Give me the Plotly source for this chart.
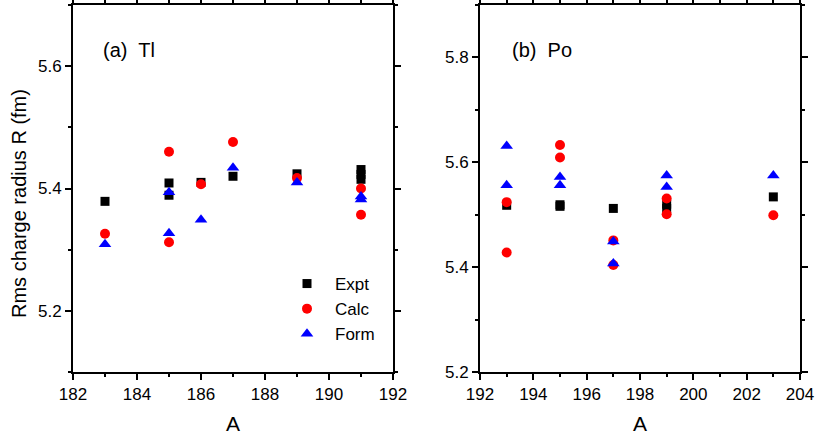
import plotly.graph_objects as go

# ---- data: panel (a) Tl ----
tl_expt_A = [183, 185, 185, 186, 187, 189, 191, 191, 191]
tl_expt_R = [5.379, 5.409, 5.389, 5.410, 5.420, 5.424, 5.431, 5.423, 5.415]
tl_calc_A = [183, 185, 185, 186, 187, 189, 191, 191]
tl_calc_R = [5.326, 5.460, 5.312, 5.407, 5.476, 5.417, 5.400, 5.357]
tl_form_A = [183, 185, 185, 186, 187, 189, 191, 191]
tl_form_R = [5.309, 5.394, 5.327, 5.349, 5.434, 5.410, 5.387, 5.382]

# ---- data: panel (b) Po ----
po_expt_A = [193, 195, 195, 197, 199, 199, 203]
po_expt_R = [5.518, 5.516, 5.519, 5.512, 5.520, 5.512, 5.534]
po_calc_A = [193, 193, 195, 195, 197, 197, 199, 199, 203]
po_calc_R = [5.524, 5.428, 5.633, 5.609, 5.451, 5.404, 5.531, 5.501, 5.499]
po_form_A = [193, 193, 195, 195, 197, 197, 199, 199, 203]
po_form_R = [5.631, 5.556, 5.572, 5.556, 5.449, 5.407, 5.575, 5.553, 5.575]

series_names = ["Expt", "Calc", "Form"]
colors = ["black", "red", "blue"]
symbols = ["square", "circle", "triangle-up"]
sizes = [9, 10, 11]

W, H = 816, 435
L, R, T, B = 73, 16, 5, 63
pw = W - L - R
ph = H - T - B

def px2x(p):
    return (p - L) / pw

def px2y(p):
    return (H - B - p) / ph

fig = go.Figure()

tl = [(tl_expt_A, tl_expt_R), (tl_calc_A, tl_calc_R), (tl_form_A, tl_form_R)]
po = [(po_expt_A, po_expt_R), (po_calc_A, po_calc_R), (po_form_A, po_form_R)]

for i, (a, r) in enumerate(tl):
    fig.add_trace(go.Scatter(x=a, y=r, mode="markers", name=series_names[i],
                             legendgroup=series_names[i], showlegend=True,
                             marker=dict(color=colors[i], symbol=symbols[i], size=sizes[i]),
                             xaxis="x", yaxis="y"))
for i, (a, r) in enumerate(po):
    fig.add_trace(go.Scatter(x=a, y=r, mode="markers", name=series_names[i],
                             legendgroup=series_names[i], showlegend=False,
                             marker=dict(color=colors[i], symbol=symbols[i], size=sizes[i]),
                             xaxis="x2", yaxis="y2"))

font = "Liberation Sans, Arial, sans-serif"
axcommon = dict(showline=True, linecolor="black", linewidth=2, mirror="ticks",
                ticks="outside", ticklen=6, tickwidth=1.5, tickcolor="black",
                showgrid=False, zeroline=False, automargin=False,
                tickfont=dict(family=font, size=17, color="black"))

fig.update_layout(
    width=W, height=H,
    margin=dict(l=L, r=R, t=T, b=B, autoexpand=False),
    plot_bgcolor="white", paper_bgcolor="white",
    font=dict(family=font, color="black"),
    xaxis=dict(domain=[0, px2x(393)], range=[182, 192], dtick=2, tick0=182,
               minor=dict(ticks="outside", ticklen=3, dtick=1, tickcolor="black"),
               title=dict(text="A", font=dict(size=21)), **axcommon),
    yaxis=dict(domain=[0, 1], range=[5.1, 5.7], dtick=0.2, tick0=5.2, tickformat=".1f",
               minor=dict(ticks="outside", ticklen=3, dtick=0.1, tickcolor="black"),
               anchor="x", **axcommon),
    xaxis2=dict(domain=[px2x(480), 1], range=[192, 204], dtick=2, tick0=192,
                minor=dict(ticks="outside", ticklen=3, dtick=1, tickcolor="black"),
                anchor="y2",
                title=dict(text="A", font=dict(size=21)), **axcommon),
    yaxis2=dict(domain=[0, 1], range=[5.2, 5.9], dtick=0.2, tick0=5.2, tickformat=".1f",
                minor=dict(ticks="outside", ticklen=3, dtick=0.1, tickcolor="black"),
                anchor="x2", **axcommon),
    legend=dict(x=px2x(279), y=px2y(266), xanchor="left", yanchor="top",
                bgcolor="rgba(0,0,0,0)", font=dict(size=17, family=font),
                tracegroupgap=0, itemwidth=46),
    showlegend=True,
    annotations=[
        dict(text="(a)  Tl", x=px2x(101), y=px2y(50), xref="paper", yref="paper",
             xanchor="left", yanchor="middle", showarrow=False,
             font=dict(size=20, family=font)),
        dict(text="(b)  Po", x=px2x(510), y=px2y(50), xref="paper", yref="paper",
             xanchor="left", yanchor="middle", showarrow=False,
             font=dict(size=20, family=font)),
        dict(text="Rms charge radius R (fm)", x=px2x(19), y=px2y(204),
             xref="paper", yref="paper", xanchor="center", yanchor="middle",
             textangle=-90, showarrow=False, font=dict(size=20, family=font)),
    ],
)

fig.write_html("out.html", config={"displayModeBar": False},
               post_script="document.body.style.margin='0';document.body.style.overflow='hidden';")
